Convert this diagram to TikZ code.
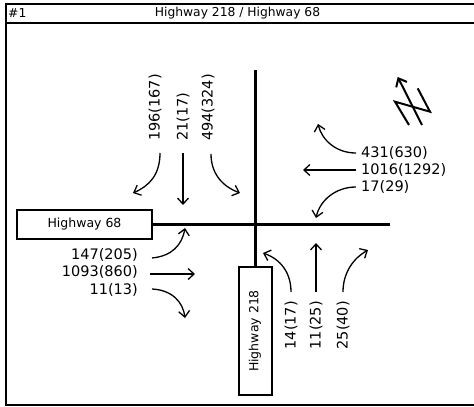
\documentclass[tikz,border=0pt]{standalone}
\usepackage{fontspec}
\setmainfont{DejaVu Sans}
\usetikzlibrary{arrows.meta}
\begin{document}
\begin{tikzpicture}[x=1pt,y=-1pt,
  frame/.style={line width=2.6pt},
  road/.style={line width=3pt},
  hwbox/.style={draw, line width=2pt, inner sep=0pt, font=\fontsize{12.5}{14}\selectfont},
  vol/.style={font=\fontsize{14.5}{17}\selectfont, inner sep=0pt},
  ttl/.style={font=\fontsize{12.3}{14}\selectfont, inner sep=0pt},
  mv/.style={line width=1.3pt, -{Straight Barb[length=6pt,width=11pt,line width=1.3pt]}},
  narrow/.style={line width=2pt, -{Straight Barb[length=7pt,width=12pt,line width=2pt]}},
]
\useasboundingbox (0,0) rectangle (474,407);
% frame
\draw[frame] (6,4) rectangle (480,405);
\draw[frame] (6,23) -- (480,23);
\node[ttl, anchor=west] (num) at (8,13.5) {\#1};
\node[ttl] (title) at (237.5,13.5) {Highway 218 / Highway 68};

% boxes
\node[hwbox, minimum width=135pt, minimum height=29pt] (h68) at (84.5,224) {Highway 68};
\node[hwbox, minimum width=128pt, minimum height=33pt, rotate=90] (h218) at (255,331) {Highway 218};

% roads
\coordinate (vtop) at (255,70);
\coordinate (hend) at (390,224);
\draw[road] (vtop) -- (vtop |- h218.east);
\draw[road] (h68.east) -- (hend);

% north approach (southbound)
\node[vol, rotate=90, anchor=west] (nl) at (155,141) {196(167)};
\node[vol, rotate=90, anchor=west] (nt) at (183,141) {21(17)};
\node[vol, rotate=90, anchor=west] (nr) at (208,141) {494(324)};
\coordinate (nl0) at (160,153); \coordinate (nl1) at (133,193);
\coordinate (nt0) at (183,153); \coordinate (nt1) at (183,205);
\coordinate (nr0) at (211,154); \coordinate (nr1) at (240,193);
\draw[mv] (nl0) .. controls (160,175) and (149,186) .. (nl1);
\draw[mv] (nt0) -- (nt1);
\draw[mv] (nr0) .. controls (211,175) and (224,187) .. (nr1);

% east approach (westbound)
\node[vol, anchor=west] (el) at (361,153) {431(630)};
\node[vol, anchor=west] (et) at (361,170) {1016(1292)};
\node[vol, anchor=west] (er) at (361,187) {17(29)};
\coordinate (el0) at (356,153); \coordinate (el1) at (318,124);
\coordinate (et0) at (356,170); \coordinate (et1) at (303,170);
\coordinate (er0) at (356,187); \coordinate (er1) at (316,218);
\draw[mv] (el0) .. controls (336,153) and (322,140) .. (el1);
\draw[mv] (et0) -- (et1);
\draw[mv] (er0) .. controls (336,187) and (320,200) .. (er1);

% west approach (eastbound)
\node[vol, anchor=east] (wl) at (138,255) {147(205)};
\node[vol, anchor=east] (wt) at (138,272) {1093(860)};
\node[vol, anchor=east] (wr) at (138,290) {11(13)};
\coordinate (wl0) at (152,258); \coordinate (wl1) at (185,228);
\coordinate (wt0) at (150,274); \coordinate (wt1) at (195,274);
\coordinate (wr0) at (152,289); \coordinate (wr1) at (185,318);
\draw[mv] (wl0) .. controls (172,256) and (182,245) .. (wl1);
\draw[mv] (wt0) -- (wt1);
\draw[mv] (wr0) .. controls (172,290) and (183,302) .. (wr1);

% south approach (northbound)
\node[vol, rotate=90, anchor=east] (sl) at (291,301) {14(17)};
\node[vol, rotate=90, anchor=east] (st) at (316,301) {11(25)};
\node[vol, rotate=90, anchor=east] (sr) at (343,301) {25(40)};
\coordinate (sl0) at (291,292); \coordinate (sl1) at (263,253);
\coordinate (st0) at (316,292); \coordinate (st1) at (316,243);
\coordinate (sr0) at (343,292); \coordinate (sr1) at (368,250);
\draw[mv] (sl0) .. controls (291,272) and (280,259) .. (sl1);
\draw[mv] (st0) -- (st1);
\draw[mv] (sr0) .. controls (343,272) and (354,258) .. (sr1);

% north arrow
\coordinate (na) at (397.7,77);
\coordinate (nb) at (422,125);
\coordinate (nla) at (409,125);
\coordinate (nlb) at (395,101.7);
\coordinate (nra) at (430,111.7);
\coordinate (nrb) at (417.7,88.3);
\draw[narrow] (nb) -- (na);
\draw[line width=2pt] (nla) -- (nlb) -- (nra) -- (nrb);
\end{tikzpicture}
\end{document}
